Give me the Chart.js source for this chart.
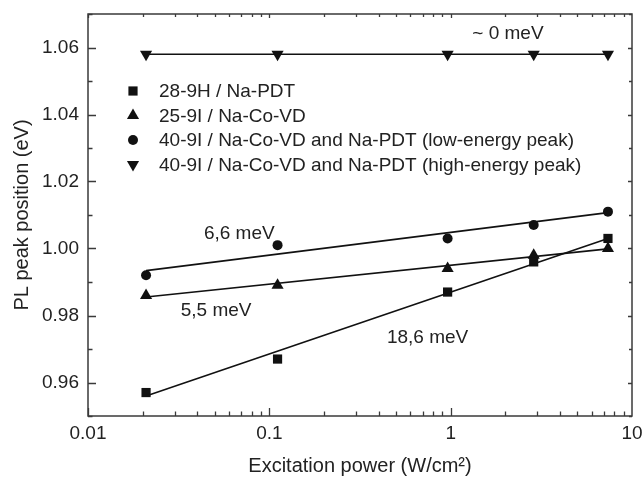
<!DOCTYPE html>
<html>
<head>
<meta charset="utf-8">
<script src="https://cdn.jsdelivr.net/npm/chart.js@4.4.1/dist/chart.umd.min.js"></script>
<style>
  html, body { margin: 0; padding: 0; background: #fff; }
  #wrap { width: 643px; height: 478px; }
</style>
</head>
<body>
<div id="wrap"><canvas id="plChart" width="643" height="478"></canvas></div>
<script>
// --- data ---
const power = [0.0209, 0.111, 0.962, 2.87, 7.37];          // W/cm2
const peak28_9H = [0.957, 0.967, 0.987, 0.996, 1.003];
const peak25_9I = [0.986, 0.989, 0.994, 0.998, 1.000];
const peak40_low = [0.992, 1.001, 1.003, 1.007, 1.011];
const peak40_high = [1.058, 1.058, 1.058, 1.058, 1.058];

// fitted lines (end points)
const fitPower = [0.0209, 7.37];
const fit28_9H = [0.956, 1.003];
const fit25_9I = [0.9855, 0.9999];
const fit40_low = [0.9934, 1.0107];
const fit40_high = [1.058, 1.058];

const seriesNames = [
  '28-9H / Na-PDT',
  '25-9I / Na-Co-VD',
  '40-9I / Na-Co-VD and Na-PDT (low-energy peak)',
  '40-9I / Na-Co-VD and Na-PDT (high-energy peak)'
];
const xTicks = [0.01, 0.1, 1, 10];
const yTicks = [0.96, 0.98, 1.00, 1.02, 1.04, 1.06];

// slope labels: text, power, energy
const noteText = ['~ 0 meV', '6,6 meV', '5,5 meV', '18,6 meV'];
const noteX = [2.07, 0.0683, 0.0509, 0.746];
const noteY = [1.0642, 1.0045, 0.9815, 0.9734];

const FONT = '"Liberation Sans", Arial, Helvetica, sans-serif';
const INK = '#111';
const TXT = '#222';
const AXIS = '#3a3a3a';

const pts = (xs, ys) => xs.map((x, i) => ({ x: x, y: ys[i] }));

const markers = [
  { style: 'rect', radius: 6.5, rotation: 0 },
  { style: 'triangle', radius: 7, rotation: 0 },
  { style: 'circle', radius: 5, rotation: 0 },
  { style: 'triangle', radius: 7, rotation: 180 }
];

function fitSet(ys) {
  return {
    data: pts(fitPower, ys),
    borderColor: INK,
    borderWidth: 1.6,
    pointRadius: 0,
    showLine: true,
    fill: false
  };
}

function markSet(i, ys) {
  return {
    label: seriesNames[i],
    data: pts(power, ys),
    showLine: false,
    pointStyle: markers[i].style,
    pointRadius: markers[i].radius,
    rotation: markers[i].rotation,
    backgroundColor: INK,
    borderColor: INK,
    borderWidth: 0
  };
}

// inward ticks + box frame
const framePlugin = {
  id: 'framePlugin',
  afterDatasetsDraw(chart) {
    const { ctx, chartArea: a, scales: { x, y } } = chart;
    ctx.save();
    ctx.strokeStyle = AXIS;
    ctx.lineWidth = 1.3;
    ctx.beginPath();
    // x ticks (log)
    for (let e = -2; e <= 0; e++) {
      for (let k = 1; k <= 9; k++) {
        const v = k * Math.pow(10, e);
        const px = Math.round(x.getPixelForValue(v)) + 0.5;
        const len = k === 1 ? 8 : 4.5;
        ctx.moveTo(px, a.bottom); ctx.lineTo(px, a.bottom - len);
        ctx.moveTo(px, a.top); ctx.lineTo(px, a.top + (k === 1 ? 4 : 3));
      }
    }
    // y ticks
    for (let i = 0; i <= 12; i++) {
      const v = 0.95 + i * 0.01;
      const py = Math.round(y.getPixelForValue(v)) + 0.5;
      const major = i % 2 === 1;
      ctx.moveTo(a.left, py); ctx.lineTo(a.left + (major ? 8 : 4.5), py);
      ctx.moveTo(a.right, py); ctx.lineTo(a.right - (major ? 4 : 3), py);
    }
    ctx.stroke();
    ctx.lineWidth = 1.5;
    ctx.strokeRect(a.left, a.top, a.right - a.left, a.bottom - a.top);
    ctx.restore();
  },
  afterDraw(chart) {
    const { ctx, scales: { x, y } } = chart;
    ctx.save();
    ctx.fillStyle = TXT;
    ctx.font = '19px ' + FONT;
    ctx.textBaseline = 'middle';
    // slope labels
    ctx.textAlign = 'center';
    noteText.forEach((t, i) => {
      ctx.fillText(t, x.getPixelForValue(noteX[i]), y.getPixelForValue(noteY[i]));
    });
    // legend in the upper left of the plot
    ctx.textAlign = 'left';
    seriesNames.forEach((name, i) => {
      const ly = 91 + i * 24.5;
      ctx.fillStyle = INK;
      Chart.helpers.drawPoint(ctx, {
        pointStyle: markers[i].style,
        rotation: markers[i].rotation,
        radius: markers[i].radius,
        borderWidth: 0
      }, 133, ly);
      ctx.fillStyle = TXT;
      ctx.fillText(name, 159, ly + 1);
    });
    ctx.restore();
  }
};

new Chart(document.getElementById('plChart').getContext('2d'), {
  type: 'line',
  data: {
    datasets: [
      fitSet(fit28_9H),
      fitSet(fit25_9I),
      fitSet(fit40_low),
      fitSet(fit40_high),
      markSet(0, peak28_9H),
      markSet(1, peak25_9I),
      markSet(2, peak40_low),
      markSet(3, peak40_high)
    ]
  },
  options: {
    responsive: false,
    animation: false,
    layout: { padding: { top: 14, right: 11, left: 0, bottom: 0 } },
    plugins: { legend: { display: false }, tooltip: { enabled: false } },
    scales: {
      x: {
        type: 'logarithmic',
        min: 0.01,
        max: 10,
        grid: { display: false, drawTicks: false },
        border: { display: false },
        afterBuildTicks: s => { s.ticks = xTicks.map(v => ({ value: v })); },
        afterFit: s => { s.height = 62; s.paddingLeft = 0; s.paddingRight = 0; },
        ticks: {
          color: TXT,
          padding: 6,
          maxRotation: 0,
          font: { family: FONT, size: 19 },
          callback: v => String(v)
        },
        title: {
          display: true,
          text: 'Excitation power (W/cm²)',
          color: TXT,
          font: { family: FONT, size: 20 },
          padding: { top: 0, bottom: 0 }
        }
      },
      y: {
        type: 'linear',
        min: 0.95,
        max: 1.07,
        grid: { display: false, drawTicks: false },
        border: { display: false },
        afterBuildTicks: s => { s.ticks = yTicks.map(v => ({ value: v })); },
        afterFit: s => { s.width = 88; s.paddingTop = 0; s.paddingBottom = 0; },
        ticks: {
          color: TXT,
          padding: 9,
          font: { family: FONT, size: 19 },
          callback: v => v.toFixed(2)
        },
        title: {
          display: true,
          text: 'PL peak position (eV)',
          color: TXT,
          font: { family: FONT, size: 20 },
          padding: { top: 10, bottom: 0 }
        }
      }
    }
  },
  plugins: [framePlugin]
});
</script>
</body>
</html>
